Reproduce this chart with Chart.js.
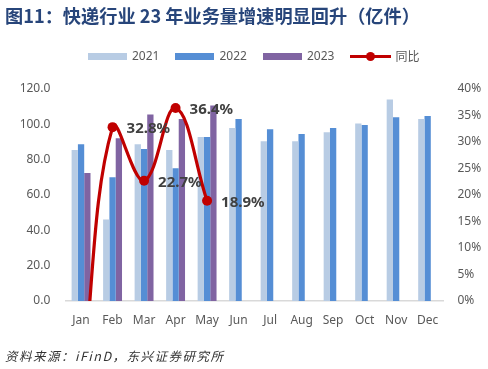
<!DOCTYPE html>
<html><head><meta charset="utf-8">
<script src="https://cdn.jsdelivr.net/npm/chart.js@4/dist/chart.umd.min.js"></script>
<style>
html,body{margin:0;padding:0;background:#fff;}
body{width:488px;height:369px;position:relative;overflow:hidden;font-family:"Noto Sans","Noto Sans CJK SC",sans-serif;}
#title{position:absolute;left:5px;top:2px;font-family:"Noto Sans CJK SC",sans-serif;font-weight:bold;font-size:18.2px;color:#27457A;white-space:nowrap;}
#wrap{position:absolute;left:0;top:0;width:488px;height:369px;}
#legend{position:absolute;left:88px;top:47px;height:18px;display:flex;align-items:center;font-size:12px;color:#595959;}
.box{width:39px;height:7px;margin-right:5px;}
.txt{margin-right:16px;line-height:18px;}
.lin{position:relative;width:41px;height:12px;margin-right:4px;}
.lin .l{position:absolute;left:0;top:4.5px;width:41px;height:3px;background:#C00000;}
.lin .d{position:absolute;left:16px;top:1.5px;width:9px;height:9px;border-radius:50%;background:#C00000;}
#foot{position:absolute;left:5px;top:346px;font-family:"Noto Sans CJK SC",sans-serif;font-style:italic;font-size:12.5px;letter-spacing:1.5px;color:#333;white-space:nowrap;}
</style></head>
<body>
<div id="wrap"><canvas id="c"></canvas></div>
<div id="title">图11：快递行业 23 年业务量增速明显回升（亿件）</div>
<div id="legend">
  <div class="box" style="background:#B8CCE4"></div><div class="txt">2021</div>
  <div class="box" style="background:#558ED5"></div><div class="txt">2022</div>
  <div class="box" style="background:#8064A2"></div><div class="txt">2023</div>
  <div class="lin"><div class="l"></div><div class="d"></div></div><div class="txt" style="font-family:'Noto Sans CJK SC';">同比</div>
</div>
<div id="foot">资料来源：iFinD，东兴证券研究所</div>
<script>
const months = ['Jan','Feb','Mar','Apr','May','Jun','Jul','Aug','Sep','Oct','Nov','Dec'];
const vol2021 = [85.5, 46.2, 88.7, 85.5, 92.8, 97.9, 90.4, 90.4, 95.5, 100.5, 114.1, 103.0];
const vol2022 = [88.7, 70.0, 86.0, 75.1, 92.8, 103.0, 97.2, 94.5, 97.9, 99.6, 104.0, 104.7];
const vol2023 = [72.4, 92.1, 105.6, 103.0, 110.7, null, null, null, null, null, null, null];
const yoy = [-18.4, 32.8, 22.7, 36.4, 18.9, null, null, null, null, null, null, null];
const leftTicks = [0, 20, 40, 60, 80, 100, 120];
const rightTicks = [0, 5, 10, 15, 20, 25, 30, 35, 40];
const labelIdx = [1, 2, 3, 4];

const yoyLabels = {
  id: 'yoyLabels',
  afterDatasetsDraw(chart) {
    const meta = chart.getDatasetMeta(3);
    const ctx = chart.ctx;
    ctx.save();
    ctx.font = 'bold 15px "Noto Sans", sans-serif';
    ctx.fillStyle = '#404040';
    ctx.textAlign = 'left';
    ctx.textBaseline = 'middle';
    labelIdx.forEach(i => {
      const p = meta.data[i];
      ctx.fillText(yoy[i].toFixed(1) + '%', p.x + 14, p.y + 2);
    });
    ctx.restore();
  }
};

const tickFont = {family: '"Noto Sans", sans-serif', size: 12};
new Chart(document.getElementById('c'), {
  data: {
    labels: months,
    datasets: [
      {type:'bar', label:'2021', data: vol2021, backgroundColor:'#B8CCE4', yAxisID:'y', order:1},
      {type:'bar', label:'2022', data: vol2022, backgroundColor:'#558ED5', yAxisID:'y', order:1},
      {type:'bar', label:'2023', data: vol2023, backgroundColor:'#8064A2', yAxisID:'y', order:1},
      {type:'line', label:'同比', data: yoy, borderColor:'#C00000', backgroundColor:'#C00000', borderWidth:3.2,
       pointRadius:5, pointHoverRadius:5, pointBackgroundColor:'#C00000', pointBorderWidth:0,
       tension:0.4, yAxisID:'y1', order:0, spanGaps:false}
    ]
  },
  options: {
    responsive: true, maintainAspectRatio: false, animation: false,
    layout: {padding: {top: 89, bottom: 38, left: 0, right: 0}},
    plugins: {legend: {display:false}, tooltip: {enabled:false}},
    datasets: {bar: {categoryPercentage: 0.6, barPercentage: 1.0}},
    scales: {
      x: {
        grid: {display:false, drawTicks:false},
        border: {display:true, color:'#D9D9D9', width:1.5},
        ticks: {color:'#595959', font: tickFont, padding: 12, maxRotation:0},
        afterFit(s){ s.height = 30; }
      },
      y: {
        position:'left', min:0, max:120,
        grid: {display:false, drawTicks:false},
        border: {display:false},
        afterBuildTicks(s){ s.ticks = leftTicks.map(v => ({value:v})); },
        ticks: {color:'#595959', font: tickFont, padding: 15, callback: v => Number(v).toFixed(1)},
        afterFit(s){ s.width = 65.3; }
      },
      y1: {
        position:'right', min:0, max:40,
        grid: {display:false, drawTicks:false},
        border: {display:false},
        afterBuildTicks(s){ s.ticks = rightTicks.map(v => ({value:v})); },
        ticks: {color:'#595959', font: tickFont, padding: 14, callback: v => v + '%'},
        afterFit(s){ s.width = 44.6; }
      }
    }
  },
  plugins: [yoyLabels]
});
</script>
</body></html>
